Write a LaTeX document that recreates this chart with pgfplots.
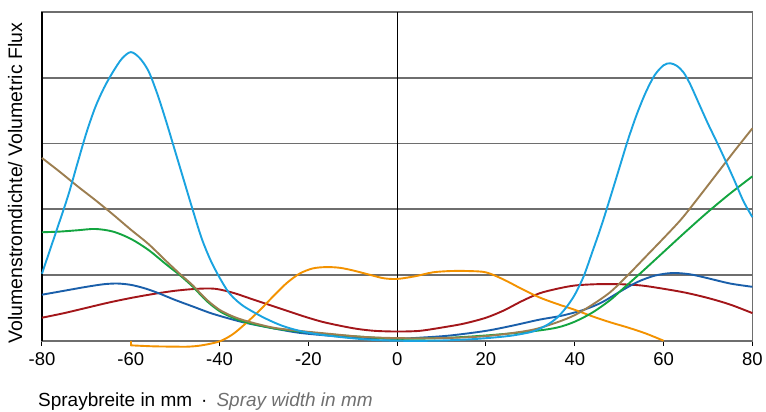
\documentclass[border=0pt]{standalone}
\usepackage{pgfplots}
\pgfplotsset{compat=1.18}
\usepackage{fontspec}
\setmainfont{Liberation Sans}
\definecolor{cLightBlue}{HTML}{1AA3E0}
\definecolor{cBrown}{HTML}{9C7E50}
\definecolor{cGreen}{HTML}{13A540}
\definecolor{cDarkBlue}{HTML}{1A5FAA}
\definecolor{cRed}{HTML}{A3161A}
\definecolor{cOrange}{HTML}{F39200}
\definecolor{cGrid}{HTML}{6E6E6E}
\definecolor{cLabelGray}{HTML}{707070}
\begin{document}
\begin{tikzpicture}
\path (-42pt,-71pt) rectangle (724pt,341pt);
\begin{axis}[
  at={(0pt,0pt)}, anchor=south west,
  scale only axis, width=711pt, height=329pt,
  xmin=-80, xmax=80, ymin=0, ymax=5,
  xtick={-80,-60,-40,-20,0,20,40,60,80},
  ytick={1,2,3,4}, yticklabels={},
  xtick pos=left,
  tick align=outside,
  major tick length=5pt,
  x tick style={draw=black, line width=1pt},
  y tick style={draw=none},
  ymajorgrids,
  grid style={draw=cGrid, line width=1.8pt},
  axis line style={draw=cGrid, line width=1.8pt},
  clip=false,
  /pgf/number format/assume math mode=true,
  tick label style={font=\fontsize{18.5}{22}\selectfont},
  xticklabel style={yshift=-3pt},
  xlabel={Spraybreite in mm\hspace{9pt}·\hspace{9pt}{\color{cLabelGray}\itshape Spray width in mm}},
  xlabel style={font=\fontsize{19}{22}\selectfont, at={(axis description cs:-0.0056,-0.2006)}, anchor=base west, inner sep=0pt},
  ylabel={Volumenstromdichte/ Volumetric Flux},
  ylabel style={font=\fontsize{19.5}{22}\selectfont, at={(axis description cs:-0.028,0.479)}, anchor=base, inner sep=0pt},
  every axis plot/.append style={line width=1.9pt, smooth, no markers},
]
\draw[black, line width=1.1pt] (rel axis cs:0,0) -- (rel axis cs:0,1);
\draw[black, line width=1.1pt] (axis cs:0,0) -- (axis cs:0,5);

% red
\addplot[cRed] coordinates {
(-80,0.35) (-75,0.42) (-70,0.50) (-65,0.58) (-60,0.65) (-55,0.71) (-50,0.76) (-45,0.79) (-41,0.79) (-37,0.73) (-33,0.64) (-29,0.55) (-25,0.46) (-21,0.37) (-17,0.29) (-13,0.23) (-9,0.18) (-5,0.15) (0,0.14) (5,0.15) (10,0.20) (15,0.26) (20,0.35) (24,0.46) (28,0.60) (32,0.72) (36,0.79) (40,0.84) (45,0.86) (50,0.86) (55,0.84) (60,0.79) (65,0.73) (70,0.65) (75,0.55) (80,0.42)
};
% dark blue
\addplot[cDarkBlue] coordinates {
(-80,0.70) (-75,0.76) (-70,0.82) (-66,0.86) (-63,0.87) (-60,0.85) (-57,0.80) (-54,0.73) (-50,0.62) (-46,0.52) (-42,0.42) (-38,0.34) (-34,0.27) (-28,0.19) (-22,0.12) (-14,0.07) (-6,0.04) (0,0.03) (6,0.05) (12,0.08) (20,0.15) (26,0.23) (32,0.32) (37,0.38) (42,0.47) (46,0.58) (50,0.74) (54,0.89) (58,0.99) (62,1.03) (66,1.01) (70,0.95) (75,0.87) (80,0.82)
};
% orange
\addplot[cOrange, smooth=false] coordinates {(-60,0) (-60,-0.07)};
\addplot[cOrange] coordinates {
(-60,-0.07) (-55,-0.085) (-50,-0.09) (-47,-0.09) (-44,-0.07) (-40,-0.01) (-37,0.10) (-34,0.27) (-31,0.46) (-28,0.67) (-25,0.87) (-22,1.02) (-19,1.10) (-16,1.12) (-13,1.11) (-10,1.07) (-6,1.00) (-3,0.95) (0,0.94) (4,0.98) (8,1.04) (12,1.06) (16,1.06) (20,1.04) (24,0.93) (28,0.79) (32,0.66) (36,0.56) (40,0.47) (44,0.37) (48,0.28) (52,0.20) (56,0.11) (60,0)
};
% green
\addplot[cGreen] coordinates {
(-80,1.65) (-76,1.66) (-72,1.68) (-68,1.70) (-64,1.66) (-60,1.55) (-56,1.38) (-52,1.16) (-49,1.00) (-46,0.82) (-43,0.61) (-40,0.45) (-37,0.35) (-34,0.28) (-28,0.19) (-22,0.14) (-16,0.10) (-8,0.06) (0,0.03) (10,0.04) (20,0.08) (30,0.14) (36,0.20) (40,0.29) (44,0.43) (48,0.62) (51,0.80) (55,1.04) (60,1.35) (65,1.66) (70,1.96) (75,2.24) (80,2.50)
};
% brown
\addplot[cBrown] coordinates {
(-80,2.78) (-76,2.57) (-72,2.35) (-68,2.14) (-64,1.92) (-60,1.69) (-56,1.47) (-52,1.21) (-49,1.02) (-46,0.84) (-43,0.63) (-40,0.47) (-37,0.37) (-34,0.30) (-28,0.20) (-22,0.15) (-16,0.11) (-8,0.06) (0,0.04) (10,0.04) (20,0.07) (30,0.16) (36,0.28) (40,0.39) (44,0.55) (48,0.74) (52,1.00) (56,1.28) (60,1.56) (64,1.85) (68,2.19) (72,2.54) (76,2.89) (80,3.23)
};
% light blue
\addplot[cLightBlue] coordinates {
(-80,1.02) (-78,1.42) (-76,1.82) (-74,2.23) (-72,2.70) (-70,3.16) (-68,3.55) (-66,3.85) (-64,4.09) (-62,4.29) (-60,4.39) (-58,4.30) (-56,4.10) (-54,3.75) (-52,3.33) (-50,2.88) (-48,2.43) (-46,1.98) (-44,1.55) (-42,1.22) (-40,0.96) (-38,0.74) (-36,0.60) (-34,0.50) (-30,0.35) (-26,0.23) (-22,0.15) (-18,0.10) (-12,0.05) (-6,0.015) (0,0.0) (8,0.0) (16,0.02) (22,0.05) (26,0.08) (30,0.13) (32,0.18) (34,0.25) (36,0.35) (38,0.50) (40,0.70) (42,0.98) (44,1.36) (46,1.75) (48,2.18) (50,2.62) (52,3.06) (54,3.45) (56,3.78) (58,4.04) (60,4.19) (61.5,4.22) (63,4.18) (64.5,4.08) (66,3.90) (68,3.60) (70,3.30) (72,3.02) (74,2.73) (76,2.43) (78,2.12) (80,1.88)
};
\end{axis}
\end{tikzpicture}
\end{document}
